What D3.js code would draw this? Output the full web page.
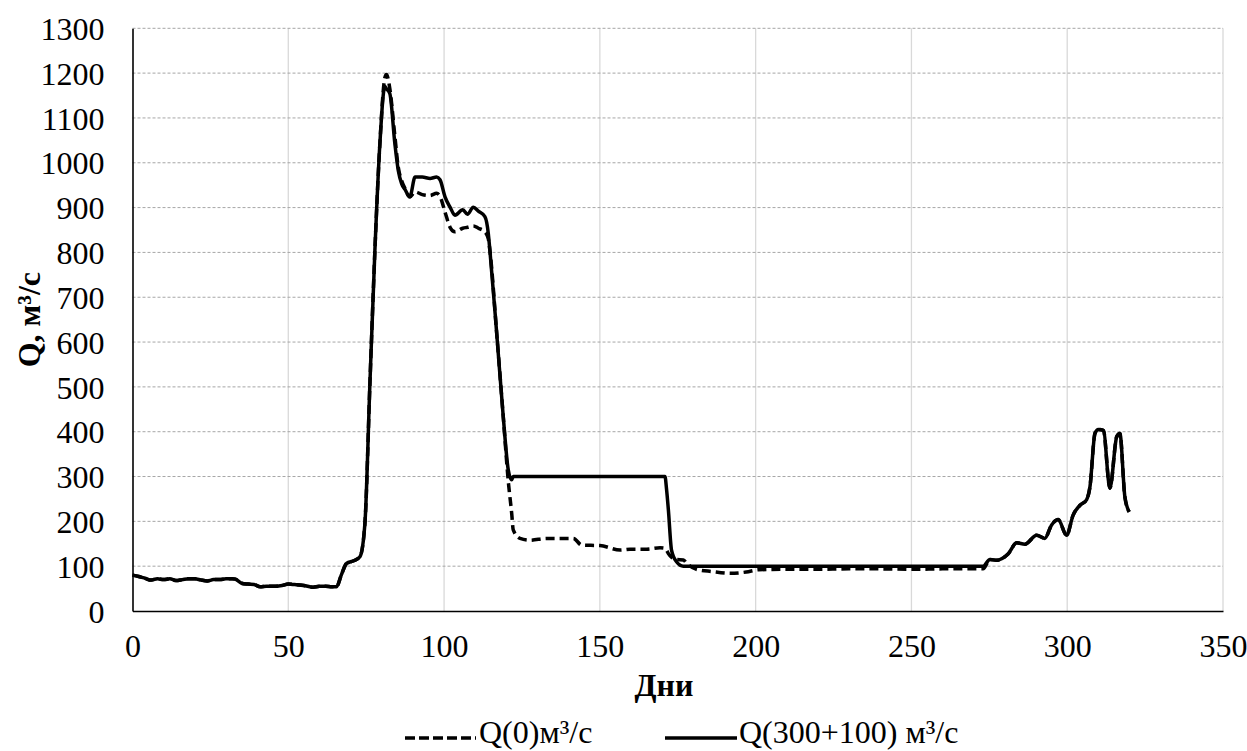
<!DOCTYPE html>
<html><head><meta charset="utf-8">
<script src="https://cdn.jsdelivr.net/npm/d3@7"></script>
<style>
html,body{margin:0;padding:0;background:#fff;}
</style></head>
<body><svg id="c" width="1247" height="751"></svg>
<script>
const days = [0,2,4,6,8,10,12,14,16,18,20,22,24,26,28,30,32,33,35,37,39,41,43,45,48,50,52,55,58,60,62,64,65.5,67,68.7,71,73,74.6,76.2,77.8,79.4,81,81.5,82.6,84.2,85.3,86.4,87.5,89,90.7,93,95.5,97.6,98.7,100.3,102,103.5,106,107.5,109.4,111,113.1,114.2,114.7,116.9,119,120.6,121.7,122.2,124.4,127.6,132.9,141.5,144.2,150,156.5,159.7,165,169.3,170.9,171.4,172,173,174.6,176.8,177.9,181,186,192,197,201,210,220,230,240,250,260,270,273,275.2,277.3,281,283.8,286.4,290.2,292.8,295,297.1,299.8,301.9,304.1,306.2,307.3,308.9,310,311.6,313.7,315.9,316.9,318.5,319.9];

// Q(300+100) m3/s — solid
const q300 = [80,77,73,69,72,70,72,68,70,72,72,69,67,70,70,72,72,71,62,60,59,54,55,55,57,60,59,57,53,55,55,54,54,80,106,112,121,196,508,805,1043,1170,1165,1154,1043,983,953,940,924,968,968,965,968,962,924,900,883,895,885,901,892,880,842,805,619,433,315,293,300,300,300,300,300,300,300,300,300,300,300,300,272,225,136,110,100,100,100,100,100,100,100,100,100,100,100,100,100,100,100,115,113,127,152,149,169,162,192,204,169,214,236,248,277,396,405,403,274,389,396,255,221];

// Q(0) m3/s — dashed
const q0 = [80,77,73,69,72,70,72,68,70,72,72,69,67,70,70,72,72,71,62,60,59,54,55,55,57,60,59,57,53,55,55,54,54,80,106,112,121,196,508,805,1043,1190,1197,1165,1060,990,960,942,924,935,929,927,932,925,890,855,846,854,856,859,854,846,830,805,619,433,290,218,181,162,158,162,162,147,146,136,138,138,141,140,136,128,120,115,114,106,93,88,84,87,92,93,93,94,94,93,94,94,94,115,113,127,152,149,169,162,192,204,169,214,236,248,277,396,405,403,274,389,396,255,221];

const xTicks = [0,50,100,150,200,250,300,350];
const yTicks = [0,100,200,300,400,500,600,700,800,900,1000,1100,1200,1300];
const seriesNames = ["Q(0)м³/с","Q(300+100) м³/с"];
const xTitle = "Дни";
const yTitle = "Q, м³/с";

const FONT = "Liberation Serif";
const FS = 32;
const svg = d3.select("#c");
const L = 132.5, R = 1223, T = 28.3, B = 611;
const x = d3.scaleLinear().domain([0,350]).range([L,R]);
const y = d3.scaleLinear().domain([0,1300]).range([B,T]);

// vertical grid (solid light gray)
svg.append("g").selectAll("line").data(xTicks.filter(d=>d>0)).join("line")
  .attr("x1",d=>x(d)).attr("x2",d=>x(d)).attr("y1",T).attr("y2",B)
  .attr("stroke","#d9d9d9").attr("stroke-width",1.3);
// horizontal grid (dashed gray)
svg.append("g").selectAll("line").data(yTicks.filter(d=>d>0)).join("line")
  .attr("x1",L).attr("x2",R).attr("y1",d=>y(d)).attr("y2",d=>y(d))
  .attr("stroke","#a6a6a6").attr("stroke-width",1).attr("stroke-dasharray","3,2");

// axes
const xAxis = svg.append("g").attr("transform",`translate(0,${B})`)
  .call(d3.axisBottom(x).tickValues(xTicks).tickFormat(d3.format("d")).tickSize(0).tickPadding(23));
const yAxis = svg.append("g").attr("transform",`translate(${L},0)`)
  .call(d3.axisLeft(y).tickValues(yTicks).tickFormat(d3.format("d")).tickSize(0).tickPadding(28));
[xAxis,yAxis].forEach(a=>{
  a.attr("font-family",FONT).attr("font-size",FS);
  a.select(".domain").attr("stroke","#000").attr("stroke-width",1.6);
  a.selectAll("text").attr("fill","#000");
});
yAxis.selectAll("text").attr("dy","0.35em");

// lines
const line = vals => d3.line().x((d,i)=>x(days[i])).y(d=>y(d)).curve(d3.curveMonotoneX)(vals);
svg.append("path").attr("d",line(q0)).attr("fill","none").attr("stroke","#000")
  .attr("stroke-width",3.5).attr("stroke-dasharray","9,5");
svg.append("path").attr("d",line(q300)).attr("fill","none").attr("stroke","#000")
  .attr("stroke-width",3.5);

// titles
svg.append("text").attr("x",664).attr("y",696).attr("text-anchor","middle")
  .attr("font-family",FONT).attr("font-size",FS).attr("font-weight","bold").text(xTitle);
svg.append("text").attr("transform",`translate(40,${(T+B)/2}) rotate(-90)`)
  .attr("text-anchor","middle").attr("font-family",FONT).attr("font-size",FS).attr("font-weight","bold").text(yTitle);

// legend
const lg = svg.append("g").attr("font-family",FONT).attr("font-size",FS);
lg.append("line").attr("x1",405).attr("x2",476).attr("y1",738).attr("y2",738)
  .attr("stroke","#000").attr("stroke-width",3.5).attr("stroke-dasharray","10,4");
lg.append("text").attr("x",479).attr("y",743).text(seriesNames[0]);
lg.append("line").attr("x1",665).attr("x2",737).attr("y1",738).attr("y2",738)
  .attr("stroke","#000").attr("stroke-width",3.5);
lg.append("text").attr("x",739).attr("y",743).text(seriesNames[1]);
</script></body></html>
